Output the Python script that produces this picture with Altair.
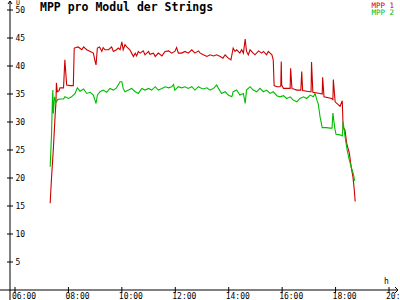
import altair as alt
import pandas as pd

# ---- data ----
red_times = ["7:19","7:22","7:26","7:30","7:32","7:33","7:35","7:39",
             "7:41","7:49","7:52","7:56","8:04","8:11","8:13","8:22","8:30","8:34","8:41","8:49","8:56",
             "9:00","9:02","9:05","9:10","9:15","9:18","9:22","9:30","9:37","9:41","9:48","9:52","9:56",
             "10:00","10:03","10:07","10:11","10:18","10:22","10:26","10:30","10:33","10:37","10:41","10:48",
             "10:52","11:00","11:03","11:11","11:15","11:22","11:30","11:37","11:45","11:52","11:59",
             "12:03","12:07","12:14","12:22","12:29","12:37","12:44","12:52",
             "12:56","13:03","13:11","13:18","13:26","13:33","13:41","13:47","13:52","13:59","14:05",
             "14:10","14:14","14:18","14:25","14:29","14:33","14:37","14:40","14:44","14:48","14:55",
             "14:59","15:07","15:14","15:18","15:25","15:29","15:33","15:37","15:40","15:42","15:48",
             "15:55","15:57","15:58","15:59","16:03","16:14","16:18","16:19","16:22","16:33","16:42",
             "16:44","16:46","17:03","17:05","17:06","17:09","17:25","17:30","17:31","17:34","17:51",
             "17:54","17:55","17:59","18:10","18:15","18:17","18:21","18:25","18:31","18:35","18:39",
             "18:42","18:44"]
red_values = [15.5,20,25,31,33.5,37,35.4,35.6,
              36.1,36.1,41.1,36.6,36.5,36.5,43.2,43.4,42.9,43.4,42.9,42.6,42.3,
              40.8,40.2,43.2,43.4,42.6,43.3,42.9,42.9,43.4,42.6,42.9,43.2,42.9,
              44.3,42.9,43.8,43.4,42.9,42.3,41.7,42.3,41.8,42.6,42.3,42.7,
              42,42.6,42.1,42.3,41.7,42.3,41.8,42.6,42.7,42.3,42.6,
              43.3,42.3,42.3,42.6,42.3,42.9,42.3,42.7,
              42.3,42,41.7,42,41.8,42,41.7,41.4,42,41.4,41.1,
              43.2,42.6,42.9,42.3,42.9,42.3,44.8,42.6,42,42.9,42.3,
              42,42.7,42.3,42.6,42,42.6,42.3,42,41.1,36.5,36.3,
              36.3,36.5,40.8,36.6,36,36,36,39.6,36,35.7,35.7,
              39,35.6,35.4,35.4,40.7,35.3,35.1,35,38,34.5,34.2,
              34,37.6,33.6,32.8,33.8,29,28.6,26.2,24.4,22,20.2,
              17.9,15.8]

green_times = ["7:19","7:22","7:24","7:25","7:26","7:29","7:32","7:36",
               "7:41","7:49","7:52","8:00","8:07","8:15","8:20","8:26","8:34","8:41","8:49","8:56",
               "9:02","9:05","9:11","9:18","9:26","9:33","9:41","9:48","9:56",
               "10:00","10:03","10:07","10:15","10:22","10:30","10:37","10:45","10:52","11:00","11:07",
               "11:15","11:22","11:30","11:37","11:45","11:52","11:56","11:59","12:07","12:14","12:22",
               "12:29","12:37","12:44","12:52",
               "12:56","13:03","13:11","13:18","13:26","13:33","13:37","13:44","13:52","13:59","14:07",
               "14:10","14:18","14:25","14:33","14:37","14:40","14:48","14:55","15:03","15:10","15:18",
               "15:25","15:33","15:40","15:48","15:55","16:03","16:10","16:18","16:25","16:33","16:40",
               "16:48","16:55","17:03","17:10","17:14","17:18","17:21",
               "17:25","17:30","17:39","17:48","17:52","17:54","17:58","18:01","18:10","18:15","18:17",
               "18:21","18:26","18:30","18:35","18:39","18:43"]
green_values = [22,27.7,34,35.7,31.5,34.5,33.5,34,
                34.1,34.1,34.5,34.2,34.5,35.1,36.1,35.5,35.9,35.1,35.3,34.8,
                33.3,34.8,35.4,35.7,35.3,36,35.7,36.1,37.2,
                37.2,36,35.4,35.7,36,35.4,35.1,36,35.7,36,35.7,
                36.3,35.7,36,36.3,36.1,36.3,36.7,35.7,36.3,36.1,36.3,
                36,36.3,35.7,36.3,
                36.1,35.9,36.1,35.7,36,36.6,36,35.1,35.4,34.8,34.5,
                35.4,35.7,34.8,35.1,33.3,35.7,36.3,35.7,35.4,36,35.4,
                35.7,35.1,35.4,34.7,34.5,34.7,34.2,34.5,33.9,33.6,34.2,
                34.5,34.2,34.8,34.5,35.1,33.9,33.3,
                31,29,29,28.9,28.9,31.6,29,27.8,27.7,27.5,30,
                27.5,25,23.5,22,21,19.5]

series_names = ["MPP 1", "MPP 2"]
series_colors = ["#cc0000", "#00bb00"]
x_ticks = [6, 8, 10, 12, 14, 16, 18, 20]
y_ticks = [5, 10, 15, 20, 25, 30, 35, 40, 45, 50]
title_text = "MPP pro Modul der Strings"
y_unit = "U"
x_unit = "h"
FONT = "DejaVu Sans Mono"


def to_hours(t):
    h, m = t.split(":")
    return int(h) + int(m) / 60.0


df = pd.concat([
    pd.DataFrame({"hour": [to_hours(t) for t in red_times], "value": red_values, "series": series_names[0]}),
    pd.DataFrame({"hour": [to_hours(t) for t in green_times], "value": green_values, "series": series_names[1]}),
], ignore_index=True)

x_scale = alt.Scale(domain=[6, 20], nice=False, zero=False)
y_scale = alt.Scale(domain=[0, 50], nice=False, zero=True)

x_axis = alt.Axis(
    values=x_ticks, labelExpr="(datum.value < 10 ? '0' : '') + datum.value + ':00'",
    domain=False, ticks=False, tickSize=0, grid=False, title=None,
    labelFont=FONT, labelFontSize=8, labelColor="black", labelAlign="left",
    labelBaseline="top", labelOffset=-3.5, labelPadding=2, labelFlush=False,
    labelOverlap=False)
y_axis = alt.Axis(
    values=y_ticks, domain=False, ticks=False, tickSize=0, grid=False, title=None,
    labelFont=FONT, labelFontSize=8, labelColor="black", labelAlign="left",
    labelBaseline="middle", labelPadding=-5, offset=5, labelOverlap=False)

lines = alt.Chart(df).mark_line(strokeWidth=1.1).encode(
    x=alt.X("hour:Q", scale=x_scale, axis=x_axis),
    y=alt.Y("value:Q", scale=y_scale, axis=y_axis),
    color=alt.Color("series:N", scale=alt.Scale(domain=series_names, range=series_colors), legend=None),
    order=alt.Order("hour:Q"),
)

one = pd.DataFrame({"a": [0]})

ytick_rules = alt.Chart(pd.DataFrame({"value": y_ticks})).mark_rule(color="black", strokeWidth=1).encode(
    y=alt.Y("value:Q", scale=y_scale, axis=y_axis), x=alt.value(-8), x2=alt.value(-2))
xtick_rules = alt.Chart(pd.DataFrame({"hour": x_ticks})).mark_rule(color="black", strokeWidth=1).encode(
    x=alt.X("hour:Q", scale=x_scale, axis=x_axis), y=alt.value(277), y2=alt.value(283))

axis_lines = [
    alt.Chart(one).mark_rule(color="black").encode(x=alt.value(-5), y=alt.value(-9), y2=alt.value(290)),
    alt.Chart(one).mark_rule(color="black").encode(y=alt.value(280), x=alt.value(-15), x2=alt.value(383)),
    alt.Chart(one).mark_rule(color="black").encode(x=alt.value(-7), y=alt.value(-6), x2=alt.value(-5), y2=alt.value(-9)),
    alt.Chart(one).mark_rule(color="black").encode(x=alt.value(-5), y=alt.value(-9), x2=alt.value(-3), y2=alt.value(-6)),
    alt.Chart(one).mark_rule(color="black").encode(x=alt.value(380), y=alt.value(277), x2=alt.value(383), y2=alt.value(280)),
    alt.Chart(one).mark_rule(color="black").encode(x=alt.value(383), y=alt.value(280), x2=alt.value(380), y2=alt.value(283)),
]

title = alt.Chart(pd.DataFrame({"t": [title_text]})).mark_text(
    font=FONT, fontSize=11.5, fontWeight="bold", align="left", baseline="alphabetic", color="black"
).encode(text="t:N", x=alt.value(25), y=alt.value(1))

yunit = alt.Chart(pd.DataFrame({"t": [y_unit]})).mark_text(
    font=FONT, fontSize=6.5, align="left", baseline="alphabetic", color="black"
).encode(text="t:N", x=alt.value(1), y=alt.value(-5))

xunit = alt.Chart(pd.DataFrame({"t": [x_unit]})).mark_text(
    font=FONT, fontSize=8, align="left", baseline="alphabetic", color="black"
).encode(text="t:N", x=alt.value(369), y=alt.value(273.5))

legend1 = alt.Chart(pd.DataFrame({"t": [series_names[0]]})).mark_text(
    font=FONT, fontSize=7.5, align="right", baseline="alphabetic", color=series_colors[0]
).encode(text="t:N", x=alt.value(379), y=alt.value(-2.5))
legend2 = alt.Chart(pd.DataFrame({"t": [series_names[1]]})).mark_text(
    font=FONT, fontSize=7.5, align="right", baseline="alphabetic", color=series_colors[1]
).encode(text="t:N", x=alt.value(379), y=alt.value(5))

chart = alt.layer(
    *axis_lines, ytick_rules, xtick_rules, lines, title, yunit, xunit, legend1, legend2
).properties(
    width=374, height=280,
    autosize=alt.AutoSizeParams(type="none"),
    padding={"left": 15, "top": 10, "right": 11, "bottom": 10},
    background="white",
).configure_view(stroke=None)

chart.save("out.html", embed_options={"renderer": "svg", "actions": False})
